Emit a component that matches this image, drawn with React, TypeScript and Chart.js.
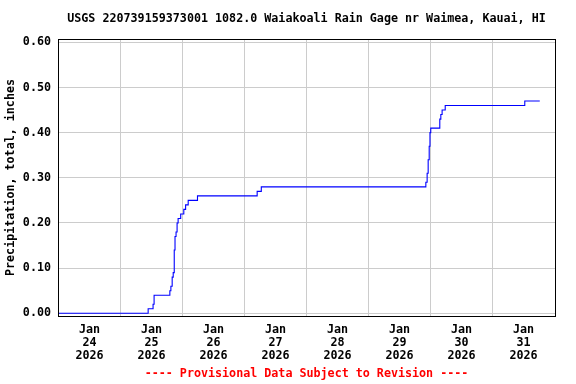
import React, { useEffect, useRef } from "react";
import { Chart, registerables } from "chart.js";

Chart.register(...registerables);

// Hours since Jan 24 2026 00:00 and cumulative precipitation (inches)
const hours = [0, 34.7, 36.6, 37.0, 43.1, 43.5, 44.0, 44.4, 44.8, 45.1, 45.5, 45.9, 46.3, 47.3, 48.5, 49.2, 50.2, 53.8, 76.9, 78.5, 142.2, 142.7, 143.1, 143.5, 143.8, 144.1, 147.6, 148.0, 148.5, 149.7, 180.5, 186.3];
const precip = [0.0, 0.01, 0.02, 0.04, 0.05, 0.06, 0.08, 0.09, 0.14, 0.17, 0.18, 0.2, 0.21, 0.22, 0.23, 0.24, 0.25, 0.26, 0.27, 0.28, 0.29, 0.31, 0.34, 0.37, 0.4, 0.41, 0.43, 0.44, 0.45, 0.46, 0.47, 0.47];

const yTicks = [0, 0.1, 0.2, 0.3, 0.4, 0.5, 0.6];
const dayLabels = ["24", "25", "26", "27", "28", "29", "30", "31"];
const monthLabel = "Jan";
const yearLabel = "2026";
const titleText = "USGS 220739159373001 1082.0 Waiakoali Rain Gage nr Waimea, Kauai, HI";
const footerText = "---- Provisional Data Subject to Revision ----";
const yTitle = "Precipitation, total, inches";

const FONT = '"DejaVu Sans Mono", monospace';
const FS = 11.7;

export default function App() {
  const ref = useRef<HTMLCanvasElement | null>(null);
  useEffect(() => {
    if (!ref.current) return;
    const xTicks: number[] = [];
    for (let h = 0; h <= 192; h += 12) xTicks.push(h);
    const framePlugin = {
      id: "frameAndText",
      afterDraw(chart: any) {
        const { ctx, chartArea } = chart;
        const { left, right, top, bottom } = chartArea;
        ctx.save();
        ctx.strokeStyle = "#000";
        ctx.lineWidth = 1;
        ctx.strokeRect(left + 0.5, top + 0.5, right - left, bottom - top);
        ctx.font = `bold ${FS}px ${FONT}`;
        ctx.textAlign = "center";
        ctx.textBaseline = "middle";
        ctx.fillStyle = "#000";
        ctx.fillText(titleText, (left + right) / 2, 19);
        ctx.fillStyle = "#ff0000";
        ctx.fillText(footerText, (left + right) / 2, 374);
        ctx.restore();
      },
    };
    const chart = new Chart(ref.current, {
      type: "line",
      data: {
        datasets: [
          {
            data: hours.map((h, i) => ({ x: h, y: precip[i] })),
            borderColor: "#0000ff",
            borderWidth: 1.1,
            pointRadius: 0,
            stepped: true,
            fill: false,
          },
        ],
      },
      options: {
        animation: false,
        responsive: false,
        layout: { padding: { top: 39, right: 21, left: 0, bottom: 0 } },
        plugins: {
          legend: { display: false },
          title: { display: false },
          tooltip: { enabled: false },
        },
        scales: {
          x: {
            type: "linear",
            min: -0.2,
            max: 192.2,
            afterBuildTicks: (s: any) => {
              s.ticks = xTicks.map((v) => ({ value: v }));
            },
            afterFit: (s: any) => {
              s.height = 68;
            },
            grid: {
              color: (c: any) => {
                const v = c.tick ? c.tick.value : 0;
                return v % 24 === 0 && v > 0 && v < 192 ? "#cccccc" : "rgba(0,0,0,0)";
              },
              drawTicks: false,
              lineWidth: 1,
            },
            border: { display: false },
            ticks: {
              autoSkip: false,
              maxRotation: 0,
              minRotation: 0,
              padding: 8,
              color: "#000",
              font: { family: FONT, size: FS, weight: "bold", lineHeight: 1.085 },
              callback: (value: any) => {
                const v = Number(value);
                if (v % 24 === 12) {
                  const idx = (v - 12) / 24;
                  return [monthLabel, dayLabels[idx], yearLabel];
                }
                return "";
              },
            },
          },
          y: {
            type: "linear",
            min: -0.006,
            max: 0.6073,
            afterBuildTicks: (s: any) => {
              s.ticks = yTicks.map((v) => ({ value: v }));
            },
            afterFit: (s: any) => {
              s.width = 58;
            },
            grid: { color: "#cccccc", drawTicks: false, lineWidth: 1 },
            border: { display: false },
            ticks: {
              padding: 7,
              color: "#000",
              font: { family: FONT, size: FS, weight: "bold" },
              callback: (value: any) => Number(value).toFixed(2),
            },
            title: {
              display: true,
              text: yTitle,
              color: "#000",
              font: { family: FONT, size: FS, weight: "bold" },
              padding: { top: 4, bottom: 0 },
            },
          },
        },
      },
      plugins: [framePlugin],
    } as any);
    return () => chart.destroy();
  }, []);
  return (
    <div style={{ position: "absolute", left: 0, top: 0, width: 576, height: 384, background: "#fff" }}>
      <canvas ref={ref} width={576} height={384} />
    </div>
  );
}
